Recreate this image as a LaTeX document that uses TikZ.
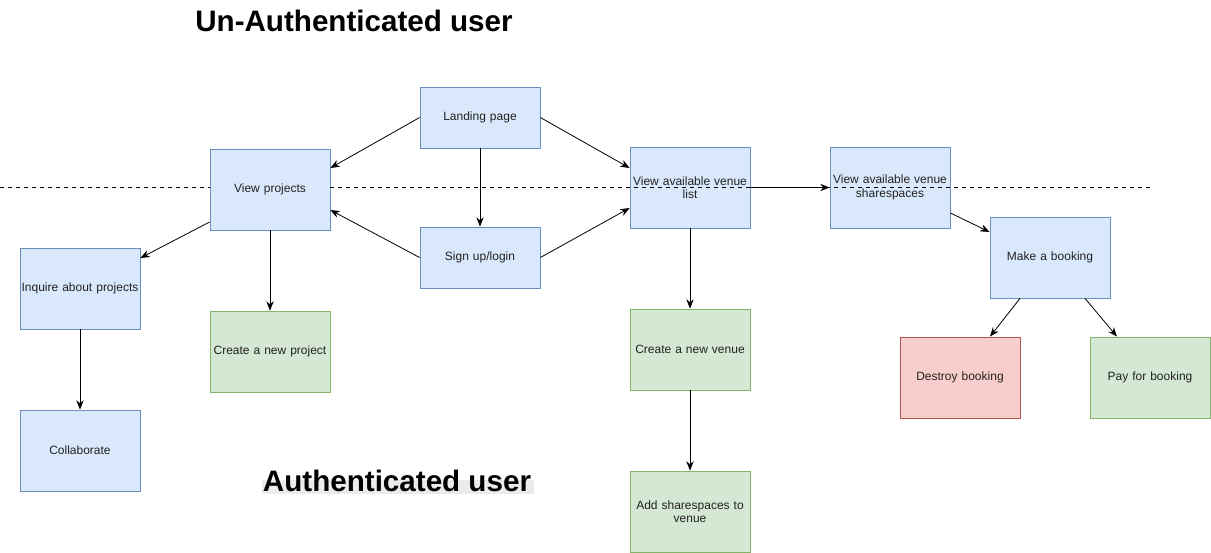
\documentclass[tikz,border=0pt]{standalone}
\usepackage{fontspec}
\setmainfont{Liberation Sans}
\usetikzlibrary{arrows.meta,calc}
\definecolor{bfill}{HTML}{DAE8FC}\definecolor{bdraw}{HTML}{6C8EBF}
\definecolor{gfill}{HTML}{D5E8D4}\definecolor{gdraw}{HTML}{82B366}
\definecolor{rfill}{HTML}{F8CECC}\definecolor{rdraw}{HTML}{B85450}
\definecolor{txt}{HTML}{222222}
\begin{document}
\begin{tikzpicture}[x=0.75pt,y=-0.75pt,
  box/.style={draw,rectangle,minimum width=90pt,minimum height=60.75pt,align=center,
    text width=88pt,font=\fontsize{9}{10}\selectfont,text=txt,inner sep=0pt,line width=0.6pt},
  bluebox/.style={box,fill=bfill,draw=bdraw},
  greenbox/.style={box,fill=gfill,draw=gdraw},
  redbox/.style={box,fill=rfill,draw=rdraw},
  shortbox/.style={minimum height=45.75pt},
  arr/.style={-{Stealth[length=7pt,width=5.5pt]},line width=0.6pt},
  title/.style={font=\bfseries,text=black,inner sep=0pt}]
\useasboundingbox (0,0) rectangle (1211,553);
\fill[white] (0,0) rectangle (1211,553);
% titles
\node[title,font=\fontsize{22.2}{24}\bfseries\selectfont] (t1) at (354,21) {Un-Authenticated user};
\fill[black!8] (262,480) rectangle (534,494);
\node[title,font=\fontsize{22.2}{24}\bfseries\selectfont] (t2) at (397,481) {Authenticated user};
% dashed line (behind View projects)
\draw[dashed,line width=0.6pt] (0,187) -- (330,187);
% nodes
\node[bluebox,shortbox] (lp) at (480,117.5) {Landing page};
\node[bluebox] (vp) at (270,189.5) {View projects};
\node[bluebox,shortbox] (su) at (480,257.5) {Sign up/login};
\node[bluebox] (vl) at (690,187.5) {View available venue\\list};
\node[bluebox] (vs) at (890,187.5) {View available venue\\sharespaces};
\node[bluebox] (mb) at (1050,257.5) {Make a booking};
\node[bluebox] (iq) at (80,288.5) {Inquire about projects};
\node[greenbox] (cp) at (270,351.5) {Create a new project};
\node[greenbox] (cv) at (690,349.5) {Create a new venue};
\node[redbox] (db) at (960,377.5) {Destroy booking};
\node[greenbox] (pb) at (1150,377.5) {Pay for booking};
\node[bluebox] (co) at (80,450.5) {Collaborate};
\node[greenbox] (as) at (690,511.5) {Add sharespaces to\\venue};
% dashed line over venue boxes
\draw[dashed,line width=0.6pt] (330,187) -- (1150,187);
% arrows
\draw[arr] (lp.west) -- ($(vp.east)+(0,-21.5)$);
\draw[arr] (lp.east) -- ($(vl.west)+(0,-19.5)$);
\draw[arr] (lp.south) -- (su.north);
\draw[arr] (su.west) -- ($(vp.east)+(0,20.5)$);
\draw[arr] (su.east) -- ($(vl.west)+(0,20.5)$);
\draw[arr] ($(vp.west)+(0,32.5)$) -- ($(iq.east)+(0,-30.5)$);
\draw[arr] (vp.south) -- (cp.north);
\draw[arr] (iq.south) -- (co.north);
\draw[arr] (vl.east) -- (vs.west);
\draw[arr] (vl.south) -- (cv.north);
\draw[arr] (cv.south) -- (as.north);
\draw[arr] ($(vs.east)+(0,25.5)$) -- ($(mb.west)+(0,-25.5)$);
\draw[arr] ($(mb.south)+(-30,0)$) -- ($(db.north)+(30,0)$);
\draw[arr] ($(mb.south)+(35,0)$) -- ($(pb.north)+(-33,0)$);
\end{tikzpicture}
\end{document}
